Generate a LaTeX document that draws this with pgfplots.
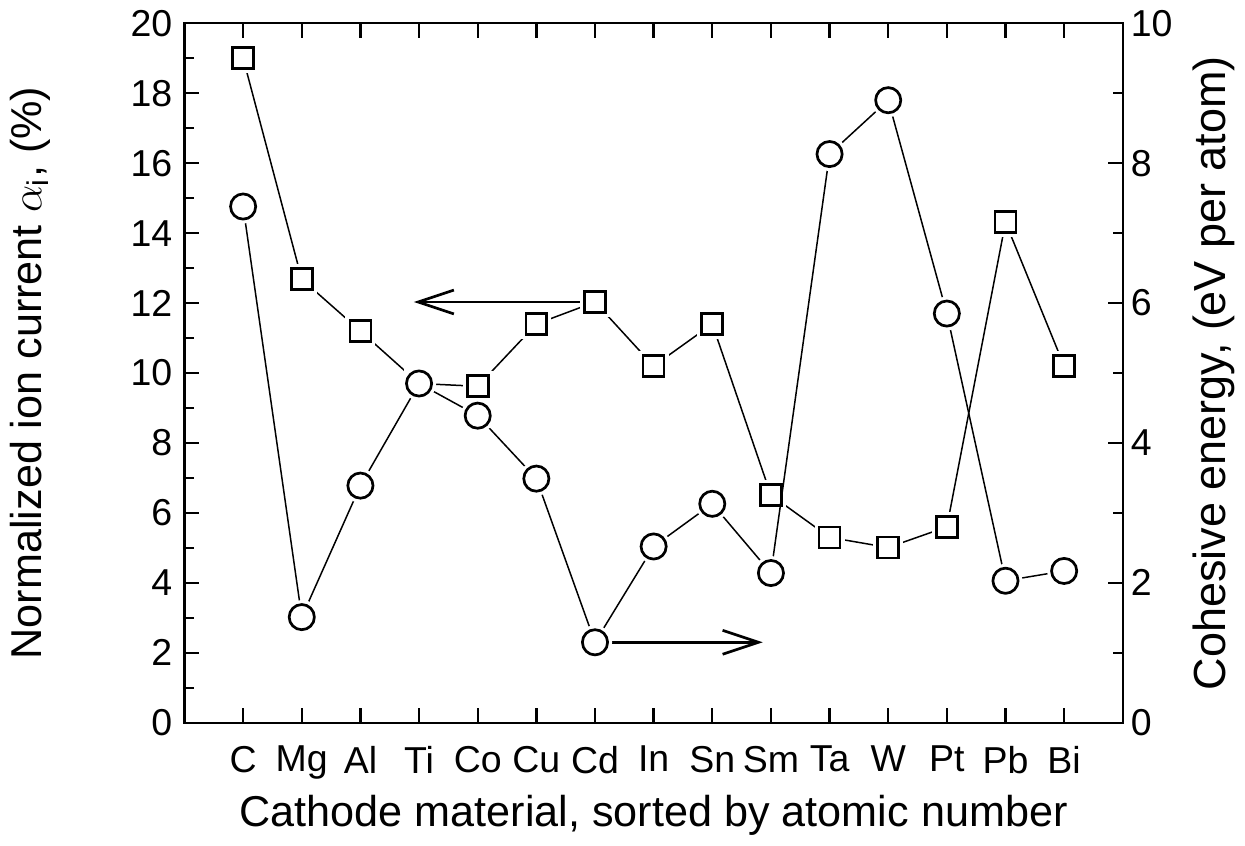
\documentclass[border=0pt]{standalone}
\usepackage{fontspec}
\setmainfont{Liberation Sans}
\usepackage{pgfplots}
\usepackage{pgfplotstable}
\pgfplotsset{compat=1.18}
\usetikzlibrary{arrows.meta}

% ion current (left axis), %
\pgfplotstableread{
x  y
0  19.0
1  12.68
2  11.2
3  9.7
4  9.62
5  11.4
6  12.03
7  10.2
8  11.4
9  6.51
10 5.3
11 5.01
12 5.6
13 14.31
14 10.2
}\ioncurrent

% cohesive energy (right axis), eV per atom
\pgfplotstableread{
x  y
0  7.38
1  1.51
2  3.39
3  4.85
4  4.39
5  3.49
6  1.15
7  2.52
8  3.13
9  2.14
10 8.13
11 8.9
12 5.85
13 2.03
14 2.17
}\cohesive

\pgfplotsset{
  common/.style={
    scale only axis,
    width=11.0cm, height=8.2cm,
    xmin=-1, xmax=15,
    tick align=inside,
    major tick length=0.17cm,
    minor tick length=0.11cm,
    every tick/.style={black, line width=0.8pt},
    axis line style={line width=0.8pt},
    /pgf/number format/assume math mode=true,
    tick label style={font=\fontsize{12.5}{15}\selectfont},
  },
}

\begin{document}
\begin{tikzpicture}
\begin{axis}[
    common,
    ymin=0, ymax=20,
    ytick={0,2,...,20},
    minor ytick={1,3,...,19},
    ytick pos=left,
    xtick={0,...,14},
    xticklabels={C,Mg,Al,Ti,Co,Cu,Cd,In,Sn,Sm,Ta,W,Pt,Pb,Bi},
    xtick pos=both,
    xticklabel style={yshift=-0.15cm},
    yticklabel style={xshift=-0.02cm},
    xlabel={Cathode material, sorted by atomic number},
    ylabel={Normalized ion current $\alpha_\mathrm{i}$, (\%)},
    xlabel style={font=\fontsize{14.4}{17}\selectfont, yshift=0.06cm},
    ylabel style={font=\fontsize{14.4}{17}\selectfont, yshift=0.7cm},
]
\addplot[black, line width=0.5pt] table[x=x,y=y] {\ioncurrent};
\addplot[only marks, mark=square*, mark size=3.5pt,
  mark options={draw=white, fill=white, line width=3pt}] table[x=x,y=y] {\ioncurrent};
\addplot[only marks, mark=square*, mark size=3.5pt,
  mark options={draw=black, fill=white, line width=0.9pt}] table[x=x,y=y] {\ioncurrent};
\draw[line width=0.9pt, -{Straight Barb[length=4.2mm,width=2.8mm]}]
  (axis cs:5.8,12.03) -- (axis cs:2.91,12.03);
\end{axis}

\begin{axis}[
    common,
    ymin=0, ymax=10,
    ytick={0,2,...,10},
    minor ytick={1,3,...,9},
    ytick pos=right,
    hide x axis,
    yticklabel style={xshift=-0.03cm},
    ylabel={Cohesive energy, (eV per atom)},
    ylabel near ticks,
    ylabel style={font=\fontsize{15}{18}\selectfont, yshift=0.0cm},
]
\addplot[black, line width=0.5pt] table[x=x,y=y] {\cohesive};
\addplot[only marks, mark=*, mark size=4.2pt,
  mark options={draw=white, fill=white, line width=3pt}] table[x=x,y=y] {\cohesive};
\addplot[only marks, mark=*, mark size=4.2pt,
  mark options={draw=black, fill=white, line width=0.9pt}] table[x=x,y=y] {\cohesive};
\draw[line width=0.9pt, -{Straight Barb[length=4.2mm,width=2.8mm]}]
  (axis cs:6.15,1.15) -- (axis cs:8.86,1.15);
\end{axis}
\end{tikzpicture}
\end{document}
